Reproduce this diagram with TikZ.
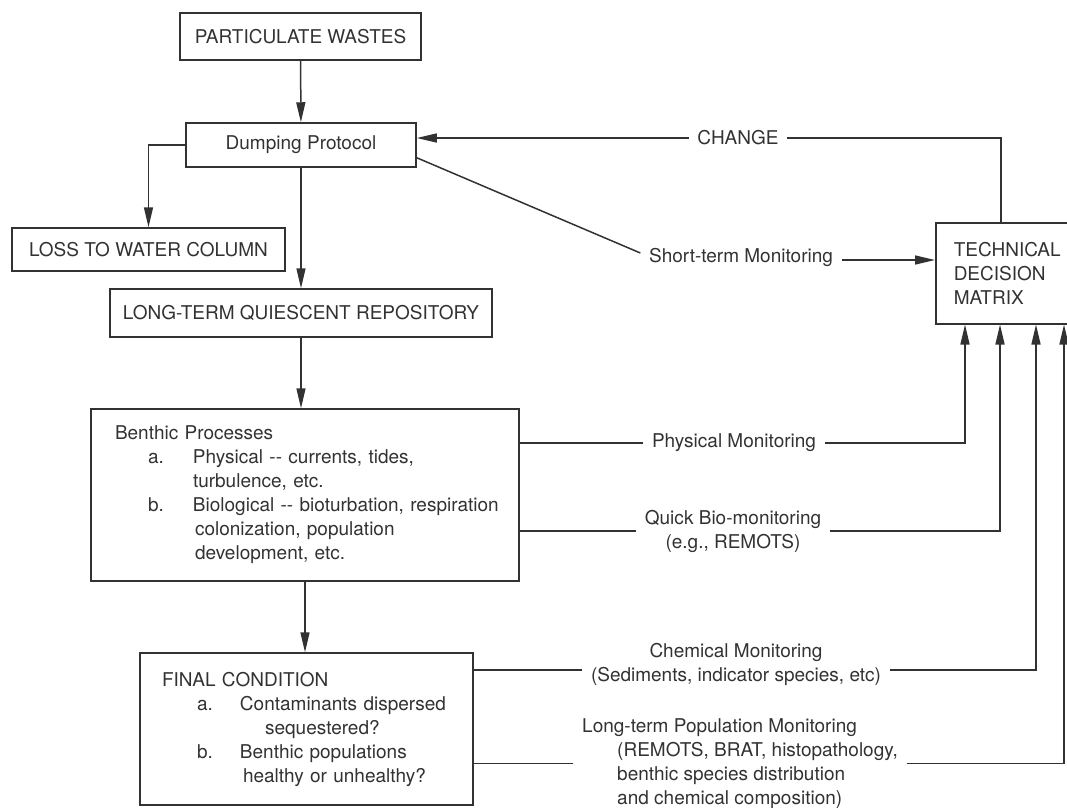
\documentclass[tikz,border=0pt]{standalone}
\usepackage{fontspec}
\setmainfont{TeX Gyre Heros}
\usetikzlibrary{arrows.meta}
\definecolor{ink}{RGB}{50,50,50}

\begin{document}
\begin{tikzpicture}[x=1pt, y=-1pt, line width=1.5pt, color=ink,
  font=\fontsize{19pt}{24pt}\selectfont,
  box/.style={draw, inner sep=0pt},
  lbl/.style={inner xsep=8pt, inner ysep=0pt, align=center},
  arr/.style={-{Triangle[length=20pt,width=9pt]}}]
  \useasboundingbox (0,0) rectangle (1067,807);
  \clip (0,0) rectangle (1067,807);
  \node[box, minimum width=241pt, minimum height=47pt] (wastes) at (300.5,36.5) {PARTICULATE WASTES};
  \node[box, minimum width=230pt, minimum height=44pt] (protocol) at (301,145) {Dumping Protocol};
  \node[box, minimum width=273pt, minimum height=43pt] (loss) at (148.5,249.5) {LOSS TO WATER COLUMN};
  \node[box, minimum width=382pt, minimum height=48pt] (repository) at (301,313) {LONG-TERM QUIESCENT REPOSITORY};
  \node[box, minimum width=428pt, minimum height=172pt, text width=428pt, align=left] (benthic) at (305,495)
    {\hspace*{24pt}Benthic Processes\\
     \hspace*{57pt}\makebox[45pt][l]{a.}Physical -{}- currents, tides,\\
     \hspace*{102pt}turbulence, etc.\\
     \hspace*{57pt}\makebox[45pt][l]{b.}Biological -{}- bioturbation, respiration\\
     \hspace*{104pt}colonization, population\\
     \hspace*{104pt}development, etc.};
  \node[box, minimum width=333pt, minimum height=152pt, text width=333pt, align=left] (final) at (306.5,729)
    {\hspace*{22pt}FINAL CONDITION\\
     \hspace*{57pt}\makebox[43pt][l]{a.}Contaminants dispersed\\
     \hspace*{125pt}sequestered?\\
     \hspace*{57pt}\makebox[43pt][l]{b.}Benthic populations\\
     \hspace*{103pt}healthy or unhealthy?};
  \node[box, inner xsep=18pt, minimum height=101pt, text width=114pt, align=left, anchor=north west] (matrix) at (935,222)
    {TECHNICAL\\DECISION\\MATRIX};
  \node[lbl] (change) at (738,138) {CHANGE};
  \node[lbl] (shortterm) at (741,257) {Short-term Monitoring};
  \node[lbl] (physical) at (734,443) {Physical Monitoring};
  \node[lbl] (quickbio) at (733,531) {Quick Bio-monitoring\\(e.g., REMOTS)};
  \node[lbl] (chemical) at (736,664.5) {Chemical Monitoring\\(Sediments, indicator species, etc)};
  \node[lbl, align=left] (longterm) at (740,763.5)
    {Long-term Population Monitoring\\
     \hspace*{35pt}(REMOTS, BRAT, histopathology,\\
     \hspace*{35pt}benthic species distribution\\
     \hspace*{35pt}and chemical composition)};
  \draw[arr] (wastes) -- (protocol);
  \draw[arr] (protocol.west) -| (loss.north);
  \draw[arr] (protocol) -- (repository);
  \draw[arr] (repository.south) -- (repository.south |- benthic.north);
  \draw[arr] (benthic.south) -- (benthic.south |- final.north);
  \draw[arr] (change.west) -- (change.west -| protocol.east);
  \draw (change.east) -| ([xshift=66pt]matrix.north west);
  \draw ([yshift=10pt]protocol.south east) -- ([yshift=4pt]shortterm.west);
  \draw[arr] ([yshift=-3pt]shortterm.east) -- ([yshift=-3pt]shortterm.east -| matrix.west);
  \draw (physical.west) -- (physical.west -| benthic.east);
  \draw[arr] (physical.east) -| ([xshift=30pt]matrix.south west);
  \draw (quickbio.west) -- (quickbio.west -| benthic.east);
  \draw[arr] (quickbio.east) -| ([xshift=65pt]matrix.south west);
  \draw ([yshift=-5.5pt]chemical.west) -- ([yshift=-5.5pt]chemical.west -| final.east);
  \draw[arr] ([yshift=-5.5pt]chemical.east) -| ([xshift=101pt]matrix.south west);
  \draw (longterm.west) -- (longterm.west -| final.east);
  \draw[arr] (longterm.east) -| ([xshift=129pt]matrix.south west);
\end{tikzpicture}
\end{document}
